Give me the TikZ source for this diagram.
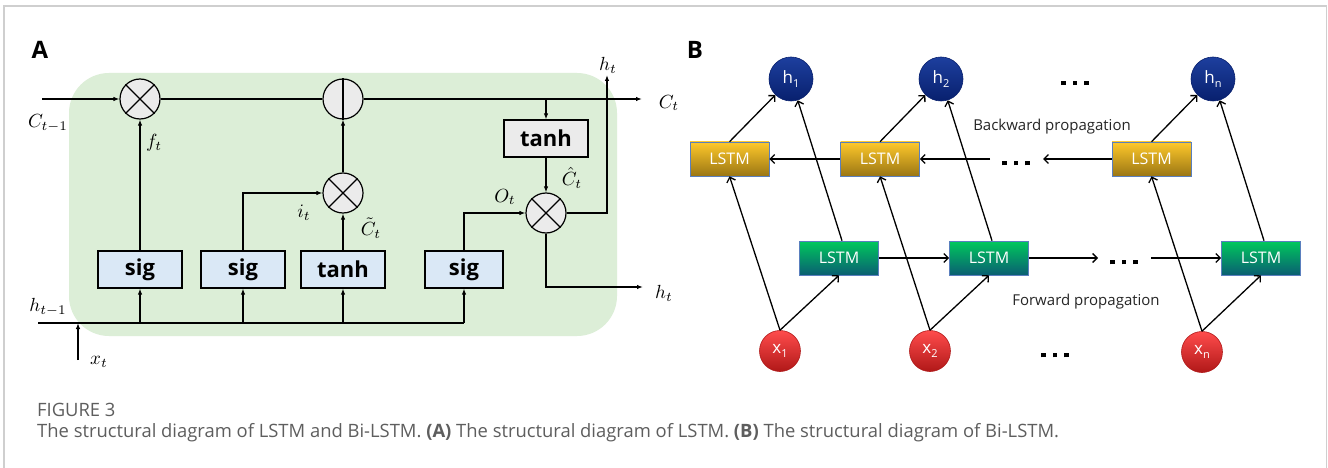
\documentclass[tikz,border=0pt]{standalone}
\usepackage{graphicx}
\usepackage{fontspec}
\newfontfamily\sansf{Open Sans}
\newfontfamily\capf{Open Sans}
\usetikzlibrary{arrows.meta}
\definecolor{cellgreen}{HTML}{DCEED7}
\definecolor{boxblue}{HTML}{DAE8F6}
\definecolor{opgray}{HTML}{EBEBEB}
\definecolor{framegray}{HTML}{CFCFCF}
\definecolor{capgray}{HTML}{5E5E5E}
\definecolor{ytop}{HTML}{FFC92B}
\definecolor{ybot}{HTML}{9A7614}
\definecolor{gtop}{HTML}{00C95C}
\definecolor{gbot}{HTML}{0A5E72}
\definecolor{rtop}{HTML}{FF4C4C}
\definecolor{rbot}{HTML}{B01818}
\definecolor{btop}{HTML}{1D3F9E}
\definecolor{bbot}{HTML}{08206E}
\definecolor{lstmedge}{HTML}{5A7FBE}
\newcommand\lowsub[1]{\raisebox{-0.45ex}{\fontsize{11}{11}\selectfont #1}}
\newcommand\threedots{\rule{4.5pt}{4.5pt}\hspace{7pt}\rule{4.5pt}{4.5pt}\hspace{7pt}\rule{4.5pt}{4.5pt}}
\newcommand\mathlbl[1]{\scalebox{1.9}{$#1$}}
\tikzset{
  x=1pt, y=-1pt,
  gatebox/.style={draw, line width=1.2pt, fill=boxblue, minimum width=84pt, minimum height=37pt, inner sep=0pt, font=\sansf\bfseries\fontsize{22}{24}\selectfont},
  opnode/.style={circle, draw, line width=1.2pt, fill=opgray, minimum size=40pt, inner sep=0pt},
  flow/.style={line width=1.2pt, -{Latex[length=6pt,width=4.5pt]}},
  plain/.style={line width=1.2pt},
  mlab/.style={inner sep=0pt},
  lstmbox/.style={draw=lstmedge, line width=0.6pt, minimum width=79pt, minimum height=34pt, inner sep=0pt, text=white, font=\sansf\fontsize{16}{18}\selectfont},
  ylstm/.style={lstmbox, top color=ytop, bottom color=ybot},
  glstm/.style={lstmbox, top color=gtop, bottom color=gbot},
  hcirc/.style={circle, draw=bbot, line width=0.6pt, minimum size=44pt, inner sep=0pt, top color=btop, bottom color=bbot, text=white, font=\sansf\fontsize{17}{19}\selectfont},
  xcirc/.style={circle, draw=rbot, line width=0.6pt, minimum size=41pt, inner sep=0pt, top color=rtop, bottom color=rbot, text=white, font=\sansf\fontsize{17}{19}\selectfont},
  barrow/.style={line width=1.3pt, -{Straight Barb[length=4.5pt,width=9pt,line width=1.3pt]}},
  dots/.style={inner sep=0pt},
  btext/.style={font=\sansf\fontsize{15}{18}\selectfont, inner sep=0pt, text=black!85},
  panel/.style={font=\sansf\bfseries\fontsize{24}{26}\selectfont, inner sep=0pt},
  captext/.style={anchor=west, inner sep=0pt, text=capgray, font=\capf\fontsize{18.4}{21}\selectfont}
}
\begin{document}
\begin{tikzpicture}
\useasboundingbox (0,0) rectangle (1328,468);
\fill[white] (0,0) rectangle (1328,468);
\draw[framegray, line width=1.2pt] (4,470) -- (4,6) -- (1326.5,6) -- (1326.5,470);

% ---------------- Panel A ----------------
\node[panel] (lblA) at (40,50) {A};
\fill[cellgreen, rounded corners=40pt] (69,73) rectangle (617,336);

\node[opnode] (m1) at (140,99) {};
\node[opnode] (add) at (343,99) {};
\node[opnode] (m2) at (343,193) {};
\node[opnode] (m3) at (546,213) {};
\draw[plain] (m1.north west) -- (m1.south east) (m1.north east) -- (m1.south west);
\draw[plain] (m2.north west) -- (m2.south east) (m2.north east) -- (m2.south west);
\draw[plain] (m3.north west) -- (m3.south east) (m3.north east) -- (m3.south west);
\draw[plain] (add.north) -- (add.south);

\node[gatebox] (s1) at (140,269.5) {sig};
\node[gatebox] (s2) at (243,269.5) {sig};
\node[gatebox] (t3) at (343,269.5) {tanh};
\node[gatebox, minimum width=78pt] (s4) at (464,269.5) {sig};
\node[gatebox, fill=opgray] (tc) at (546,138.5) {tanh};

\coordinate (cin) at (42,99);
\coordinate (cout) at (642,99);
\coordinate (hin) at (38,323);
\coordinate (hend) at (464,323);
\coordinate (xin) at (78,360);
\coordinate (hup) at (607,75);
\coordinate (hcorner) at (607,213);
\coordinate (hbot) at (546,287);
\coordinate (hout) at (643,287);
\coordinate (ocorner) at (464,213);
\coordinate (icorner) at (243,193);

\draw[flow] (cin) -- (m1.west);
\draw[plain] (m1.east) -- (add.west);
\draw[flow] (add.east) -- (cout);
\draw[flow] (tc.north |- add) -- (tc.north);
\draw[flow] (tc.south) -- (m3.north);
\draw[flow] (m3.east) -- (hcorner) -- (hup);
\draw[flow] (m3.south) -- (hbot) -- (hout);
\draw[flow] (s4.north) -- (ocorner) -- (m3.west);
\draw[flow] (s1.north) -- (m1.south);
\draw[flow] (s2.north) -- (icorner) -- (m2.west);
\draw[flow] (t3.north) -- (m2.south);
\draw[flow] (m2.north) -- (add.south);
\draw[plain] (hin) -- (hend);
\draw[flow] (s1.south |- hin) -- (s1.south);
\draw[flow] (s2.south |- hin) -- (s2.south);
\draw[flow] (t3.south |- hin) -- (t3.south);
\draw[flow] (hend) -- (s4.south);
\draw[flow] (xin) -- (xin |- hin);

\node[mlab] (lcin) at (48,123) {\mathlbl{C_{t-1}}};
\node[mlab] (lcout) at (669,103) {\mathlbl{C_t}};
\node[mlab] (lft) at (154,143) {\mathlbl{f_t}};
\node[mlab] (lit) at (304,213) {\mathlbl{i_t}};
\node[mlab] (lct) at (371,228) {\mathlbl{\tilde{C}_t}};
\node[mlab] (lch) at (572,178) {\mathlbl{\hat{C}_t}};
\node[mlab] (lot) at (505,197) {\mathlbl{O_t}};
\node[mlab] (lht1) at (608,65) {\mathlbl{h_t}};
\node[mlab] (lht2) at (664,293) {\mathlbl{h_t}};
\node[mlab] (lhin) at (48,307) {\mathlbl{h_{t-1}}};
\node[mlab] (lxt) at (99,362) {\mathlbl{x_t}};

% ---------------- Panel B ----------------
\node[panel] (lblB) at (695,50) {B};

\node[hcirc] (h1) at (791,79) {h\lowsub{1}};
\node[hcirc] (h2) at (941,79) {h\lowsub{2}};
\node[hcirc] (hn) at (1213,79) {h\lowsub{n}};

\node[ylstm] (y1) at (729.5,159) {LSTM};
\node[ylstm] (y2) at (880,159) {LSTM};
\node[ylstm] (y3) at (1151.5,159) {LSTM};

\node[glstm] (g1) at (839,258) {LSTM};
\node[glstm] (g2) at (989,258) {LSTM};
\node[glstm] (g3) at (1261,258) {LSTM};

\node[xcirc] (x1) at (780,351) {x\lowsub{1}};
\node[xcirc] (x2) at (930,351) {x\lowsub{2}};
\node[xcirc] (xn) at (1202,352) {x\lowsub{n}};

\node[dots] (dtop) at (1075,83) {\threedots};
\node[dots] (dback) at (1016,163) {\threedots};
\node[dots] (dfwd) at (1124,262) {\threedots};
\node[dots] (dbot) at (1055,355) {\threedots};

\node[btext] (tback) at (1052,127) {Backward propagation};
\node[btext] (tfwd) at (1086,302) {Forward propagation};

\coordinate (bk1) at (1043,159);
\coordinate (bk2) at (990,159);
\coordinate (fw1) at (1098,258);
\coordinate (fw2) at (1151,258);

\draw[barrow] (y2.west) -- (y1.east);
\draw[barrow] (y3.west) -- (bk1);
\draw[barrow] (bk2) -- (y2.east);
\draw[barrow] (g1.east) -- (g2.west);
\draw[barrow] (g2.east) -- (fw1);
\draw[barrow] (fw2) -- (g3.west);

\draw[barrow] (x1.north) -- (y1.south);
\draw[barrow] (x1.north) -- (g1.south);
\draw[barrow] (x2.north) -- (y2.south);
\draw[barrow] (x2.north) -- (g2.south);
\draw[barrow] (xn.north) -- (y3.south);
\draw[barrow] (xn.north) -- (g3.south);

\draw[barrow] (y1.north) -- (h1);
\draw[barrow] ([xshift=3pt]g1.north) -- (h1);
\draw[barrow] (y2.north) -- (h2);
\draw[barrow] ([xshift=3pt]g2.north) -- (h2);
\draw[barrow] (y3.north) -- (hn);
\draw[barrow] ([xshift=3pt]g3.north) -- (hn);

% ---------------- Caption ----------------
\node[captext] (fig) at (37,410) {FIGURE 3};
\node[captext] (cap) at (37,433) {The structural diagram of LSTM and Bi-LSTM. \textbf{(A)} The structural diagram of LSTM. \textbf{(B)} The structural diagram of Bi-LSTM.};
\end{tikzpicture}
\end{document}
